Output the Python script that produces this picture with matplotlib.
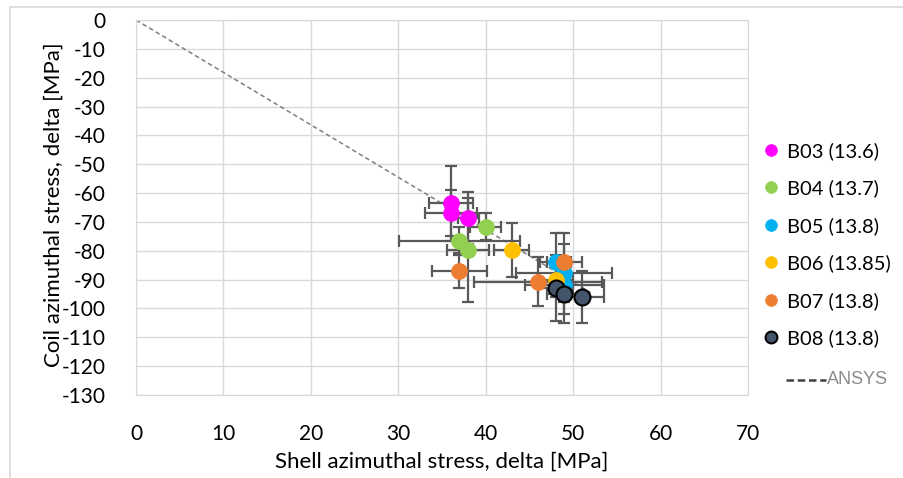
import matplotlib.pyplot as plt
from matplotlib.lines import Line2D
from matplotlib.patches import Rectangle

plt.rcParams['font.family'] = ['Lato', 'DejaVu Sans']
plt.rcParams['axes.unicode_minus'] = False

# series: shell stress (x), coil stress (y), error bars
b03_x = [36, 36, 38]
b03_y = [-63.5, -66.8, -68.7]
b03_xerr = [2.5, 3.0, 1.2]
b03_yerr = [13, 8, 9]

b04_x = [40, 37, 38]
b04_y = [-71.6, -76.6, -79.7]
b04_xerr = [1.8, 6.9, 2.4]
b04_yerr = [4.8, 5, 18]

b05_x = [48, 49, 49]
b05_y = [-83.8, -87.8, -92]
b05_xerr = [1.8, 5.5, 4.5]
b05_yerr = [10, 10, 10]

b06_x = [43, 48]
b06_y = [-79.7, -90]
b06_xerr = [2, 2]
b06_yerr = [9.5, 6]

b07_x = [37, 46, 49]
b07_y = [-86.9, -90.7, -83.8]
b07_xerr = [3.1, 7.3, 2]
b07_yerr = [6, 8.5, 10]

b08_x = [48, 49, 51]
b08_y = [-93, -95, -95.9]
b08_xerr = [2, 2, 2.5]
b08_yerr = [11.5, 10, 9]

ansys_x = [0, 52]
ansys_y = [0, -94.5]

names = ["B03 (13.6)", "B04 (13.7)", "B05 (13.8)", "B06 (13.85)", "B07 (13.8)", "B08 (13.8)"]
colors = ["#FF00FF", "#92D050", "#00B0F0", "#FFC000", "#ED7D31", "#44546A"]
edges = ["#FF00FF", "#92D050", "#00B0F0", "#FFC000", "#ED7D31", "black"]
data = [(b03_x, b03_y, b03_xerr, b03_yerr),
        (b04_x, b04_y, b04_xerr, b04_yerr),
        (b05_x, b05_y, b05_xerr, b05_yerr),
        (b06_x, b06_y, b06_xerr, b06_yerr),
        (b07_x, b07_y, b07_xerr, b07_yerr),
        (b08_x, b08_y, b08_xerr, b08_yerr)]

fig = plt.figure(figsize=(9.04, 4.78), dpi=100)
ax = fig.add_axes([136/904, 1-395/478, 612/904, 375/478])

# light frame round the chart area
fig.patches.append(Rectangle((10/904, -0.1), 1.2, 1 - 7/478 + 0.1, transform=fig.transFigure,
                             fill=False, edgecolor='#d9d9d9', lw=1.2))

ax.plot(ansys_x, ansys_y, ls=(0, (3, 2)), color='#7f7f7f', lw=1.1, zorder=2)

for (x, y, xe, ye) in data:
    ax.errorbar(x, y, xerr=xe, yerr=ye, fmt='none', ecolor='#595959',
                elinewidth=1.6, capsize=4.5, capthick=1.6, zorder=3)

handles = []
for (x, y, xe, ye), c, e, n in zip(data, colors, edges, names):
    mew = 1.5 if e == 'black' else 0.5
    ax.plot(x, y, 'o', ms=11.5, mfc=c, mec=e, mew=mew, ls='none', zorder=4)
    handles.append(Line2D([], [], marker='o', ls='none', ms=8.5, mfc=c, mec=e, mew=mew))

ax.set_xlim(0, 70)
ax.set_ylim(-130, 0)
ax.set_xticks(range(0, 71, 10))
ax.set_yticks(range(-130, 1, 10))
ax.grid(color='#d9d9d9', lw=1)
ax.set_axisbelow(True)
for s in ax.spines.values():
    s.set_color('#d9d9d9')
ax.tick_params(length=0, labelsize=15, colors='black')
ax.tick_params(axis='y', pad=22)
ax.tick_params(axis='x', pad=21)

ax.set_xlabel("Shell azimuthal stress, delta [MPa]", fontsize=16)
ax.set_ylabel("Coil azimuthal stress, delta [MPa]", fontsize=16)
ax.xaxis.set_label_coords(0.5, -0.15)
ax.yaxis.set_label_coords(-0.118, 0.507)

fig.legend(handles, names, loc='upper left', bbox_to_anchor=(763/904, 1 - 142/478),
           frameon=False, fontsize=14.5, handlelength=0.8, handletextpad=0.4,
           labelspacing=0.97, borderaxespad=0, borderpad=0)

# ANSYS entry below the legend
fig.lines.append(Line2D([786/904, 826/904], [1 - 380/478, 1 - 380/478], transform=fig.transFigure,
                        ls=(0, (3, 1.5)), color='#404040', lw=1.8))
fig.text(827/904, 1 - 380/478, "ANSYS", color='#8c8c8c', fontsize=13, va='center',
         family=['Liberation Sans', 'DejaVu Sans'])

fig.savefig('out.png', dpi=100)
